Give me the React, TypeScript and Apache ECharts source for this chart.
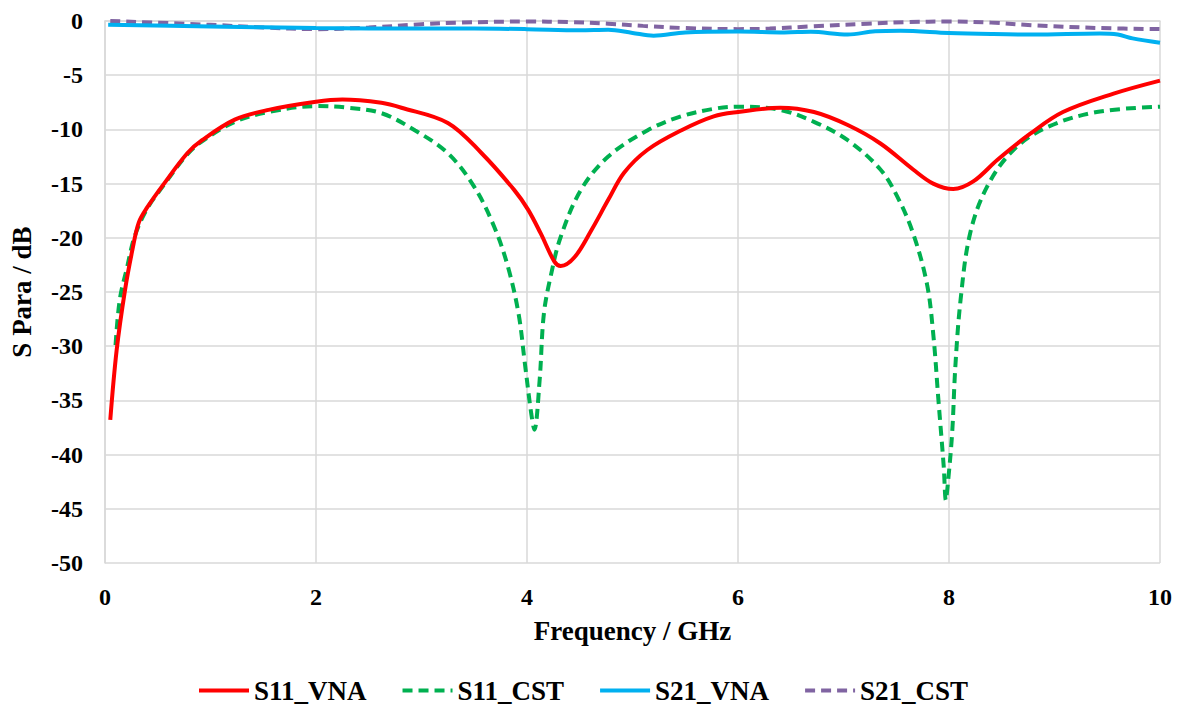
import React, { useEffect, useRef } from "react";
import * as echarts from "echarts";

const freqS11VNA = [0.05, 0.11, 0.19, 0.26, 0.32, 0.4, 0.56, 0.78, 0.92, 1.23, 1.55, 2.0, 2.25, 2.62, 2.81, 3.25, 3.57, 3.88, 4.01, 4.13, 4.26, 4.32, 4.45, 4.61, 4.77, 4.92, 5.14, 5.46, 5.77, 6.0, 6.4, 6.72, 7.04, 7.35, 7.66, 7.85, 8.04, 8.23, 8.46, 8.77, 9.08, 9.56, 10];
const valS11VNA = [-36.8, -30.4, -24.8, -21.1, -18.6, -17.2, -15.0, -12.2, -11.0, -9.1, -8.2, -7.45, -7.25, -7.55, -8.0, -9.4, -12.2, -15.6, -17.4, -19.6, -22.2, -22.6, -21.8, -19.3, -16.5, -14.0, -11.9, -10.1, -8.8, -8.4, -8.0, -8.4, -9.6, -11.3, -13.7, -15.0, -15.5, -14.8, -12.8, -10.4, -8.4, -6.7, -5.5];

const freqS11CST = [0.1, 0.14, 0.21, 0.28, 0.4, 0.56, 0.78, 0.92, 1.23, 1.55, 2.0, 2.3, 2.62, 2.94, 3.25, 3.5, 3.69, 3.82, 3.92, 3.98, 4.04, 4.07, 4.12, 4.16, 4.23, 4.32, 4.51, 4.77, 5.14, 5.46, 5.77, 6.0, 6.4, 6.72, 7.04, 7.35, 7.51, 7.66, 7.79, 7.85, 7.9, 7.95, 7.97, 7.99, 8.03, 8.06, 8.11, 8.2, 8.36, 8.61, 8.93, 9.4, 10];
const valS11CST = [-29.9, -25.7, -22.7, -19.9, -17.3, -15.1, -12.3, -11.1, -9.3, -8.4, -7.85, -8.0, -8.5, -10.1, -12.2, -15.3, -19.0, -22.7, -27, -31.6, -36.2, -37.7, -33.1, -27, -23.3, -19.9, -15.6, -12.5, -10.1, -8.8, -8.1, -7.9, -8.2, -9.3, -11.0, -13.7, -16.2, -19.6, -24.2, -28.8, -35, -41.1, -44.2, -42.6, -38, -31.9, -25.7, -19.6, -15.3, -11.9, -9.8, -8.4, -7.9];

const freqS21VNA = [0.03, 1.0, 2.0, 3.0, 3.5, 4.0, 4.5, 4.77, 5.0, 5.2, 5.5, 6.0, 6.44, 6.69, 7.04, 7.3, 7.54, 8.0, 8.4, 8.8, 9.43, 9.6, 9.74, 10];
const valS21VNA = [-0.35, -0.5, -0.65, -0.7, -0.7, -0.75, -0.85, -0.8, -1.1, -1.35, -1.05, -0.97, -1.05, -1.0, -1.25, -0.95, -0.9, -1.1, -1.2, -1.25, -1.15, -1.25, -1.6, -2.0];

const freqS21CST = [0.05, 1.0, 1.5, 2.0, 2.5, 3.0, 3.35, 4.0, 4.4, 4.77, 5.1, 5.49, 6.0, 6.3, 6.69, 7.23, 7.6, 8.01, 8.4, 8.8, 9.43, 10];
const valS21CST = [0, -0.35, -0.6, -0.75, -0.6, -0.3, -0.15, -0.05, -0.1, -0.25, -0.45, -0.65, -0.75, -0.7, -0.5, -0.25, -0.1, -0.05, -0.15, -0.4, -0.65, -0.75];

const seriesNames = ["S11_VNA", "S11_CST", "S21_VNA", "S21_CST"];
const seriesColors = ["#ff0000", "#00b050", "#00b0f0", "#8064a2"];

const pairs = (f: number[], v: number[]) => f.map((x, i) => [x, v[i]]);

const FONT = "Times New Roman, Liberation Serif, DejaVu Serif, serif";

export default function App() {
  const ref = useRef<HTMLDivElement>(null);
  useEffect(() => {
    if (!ref.current) return;
    const chart = echarts.init(ref.current, null, { renderer: "svg" });
    const datasets = [
      pairs(freqS11VNA, valS11VNA),
      pairs(freqS11CST, valS11CST),
      pairs(freqS21VNA, valS21VNA),
      pairs(freqS21CST, valS21CST),
    ];
    const dashed = [false, true, false, true];
    chart.setOption({
      animation: false,
      backgroundColor: "#ffffff",
      textStyle: { fontFamily: FONT },
      grid: { left: 103, right: 20, top: 21, bottom: 143, containLabel: false },
      legend: {
        top: 672,
        left: 192,
        itemWidth: 50,
        itemHeight: 14,
        itemGap: 34,
        itemStyle: { opacity: 0 },
        lineStyle: { width: 4 },
        textStyle: { fontFamily: FONT, fontWeight: "bold", fontSize: 27, color: "#000" },
        data: seriesNames,
      },
      xAxis: {
        type: "value",
        min: 0,
        max: 10,
        interval: 2,
        name: "Frequency / GHz",
        nameLocation: "middle",
        nameGap: 54,
        nameTextStyle: { fontFamily: FONT, fontWeight: "bold", fontSize: 27, color: "#000" },
        axisLine: { show: true, lineStyle: { color: "#d9d9d9", width: 1.5 } },
        axisTick: { show: false },
        axisLabel: { margin: 22, fontFamily: FONT, fontWeight: "bold", fontSize: 24, color: "#000" },
        splitLine: { show: true, lineStyle: { color: "#d9d9d9", width: 1.5 } },
      },
      yAxis: {
        type: "value",
        min: -50,
        max: 0,
        interval: 5,
        name: "S Para / dB",
        nameLocation: "middle",
        nameGap: 70,
        nameTextStyle: { fontFamily: FONT, fontWeight: "bold", fontSize: 27, color: "#000" },
        axisLine: { show: true, lineStyle: { color: "#d9d9d9", width: 1.5 } },
        axisTick: { show: false },
        axisLabel: { margin: 22, fontFamily: FONT, fontWeight: "bold", fontSize: 24, color: "#000" },
        splitLine: { show: true, lineStyle: { color: "#d9d9d9", width: 1.5 } },
      },
      series: seriesNames.map((name, i) => ({
        name,
        type: "line",
        data: datasets[i],
        smooth: 0.35,
        symbol: "none",
        color: seriesColors[i],
        lineStyle: {
          color: seriesColors[i],
          width: 4,
          type: dashed[i] ? [10, 6] : "solid",
        },
        z: [4, 3, 2, 1][i],
      })),
    });
    return () => chart.dispose();
  }, []);
  return (
    <div
      ref={ref}
      style={{ position: "fixed", left: 0, top: 0, width: 1180, height: 706, background: "#fff" }}
    />
  );
}
